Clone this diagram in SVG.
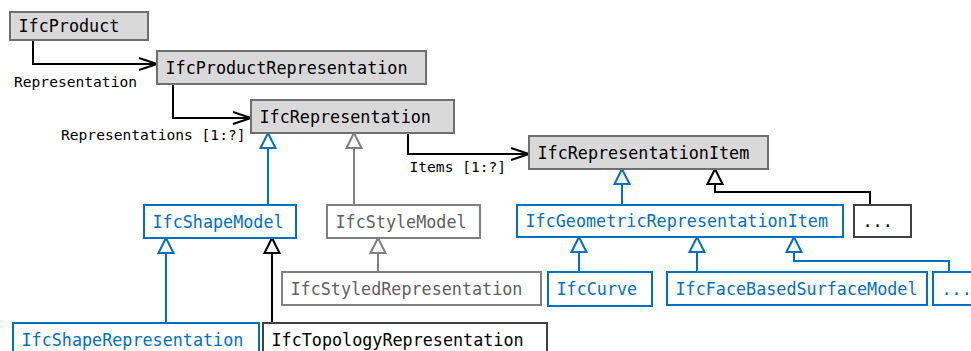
<svg xmlns="http://www.w3.org/2000/svg" width="971" height="351" viewBox="0 0 971 351">
  <defs>
    <style>
      .box { stroke-width: 2; }
      .abstract { fill: #d9d9d9; stroke: #6f6f6f; }
      .geo { fill: #ffffff; stroke: #0070c0; }
      .sty { fill: #ffffff; stroke: #808080; }
      .plain { fill: #ffffff; stroke: #404040; }
      .name { font-family: "DejaVu Sans Mono", "Liberation Mono", monospace; font-size: 16.75px; fill: #000000; }
      .name.geo-t { fill: #0070c0; }
      .name.sty-t { fill: #5f5f5f; }
      .role { font-family: "DejaVu Sans Mono", "Liberation Mono", monospace; font-size: 14.6px; fill: #000000; }
      .link { fill: none; stroke-width: 2; }
      .assoc { stroke: #000000; marker-end: url(#open-arrow); }
      .inh-blue { stroke: #0070c0; marker-end: url(#tri-blue); }
      .inh-gray { stroke: #808080; marker-end: url(#tri-gray); }
      .inh-black { stroke: #000000; marker-end: url(#tri-black); }
    </style>
    <!-- open arrow for attribute references -->
    <marker id="open-arrow" viewBox="0 0 20 14" refX="19" refY="7" markerWidth="20" markerHeight="14" markerUnits="userSpaceOnUse" orient="auto" overflow="visible">
      <path d="M1,1 L19,7 L1,13" fill="none" stroke="#000000" stroke-width="2"/>
    </marker>
    <!-- hollow triangles for subtype relations -->
    <marker id="tri-blue" viewBox="0 0 17 17" refX="16" refY="8.5" markerWidth="17" markerHeight="17" markerUnits="userSpaceOnUse" orient="auto" overflow="visible">
      <path d="M1,1 L16,8.5 L1,16 Z" fill="#ffffff" stroke="#0070c0" stroke-width="2"/>
    </marker>
    <marker id="tri-gray" viewBox="0 0 17 17" refX="16" refY="8.5" markerWidth="17" markerHeight="17" markerUnits="userSpaceOnUse" orient="auto" overflow="visible">
      <path d="M1,1 L16,8.5 L1,16 Z" fill="#ffffff" stroke="#808080" stroke-width="2"/>
    </marker>
    <marker id="tri-black" viewBox="0 0 17 17" refX="16" refY="8.5" markerWidth="17" markerHeight="17" markerUnits="userSpaceOnUse" orient="auto" overflow="visible">
      <path d="M1,1 L16,8.5 L1,16 Z" fill="#ffffff" stroke="#000000" stroke-width="2"/>
    </marker>
  </defs>

  <rect width="971" height="351" fill="#ffffff"/>

  <g id="connectors">
    <path class="link assoc" d="M33,40 V64 H157"/>
    <path class="link assoc" d="M173,84 V118 H251"/>
    <path class="link assoc" d="M408,133 V154 H529"/>
    <path class="link inh-blue" d="M268,205 V133"/>
    <path class="link inh-gray" d="M354,205 V133"/>
    <path class="link inh-blue" d="M622,205 V169"/>
    <path class="link inh-black" d="M870,205 V192 H715 V169"/>
    <path class="link inh-blue" d="M166,323 V238"/>
    <path class="link inh-black" d="M272,323 V238"/>
    <path class="link inh-gray" d="M378,272 V238"/>
    <path class="link inh-blue" d="M579,272 V237"/>
    <path class="link inh-blue" d="M697,272 V237"/>
    <path class="link inh-blue" d="M949,272 V261 H794 V237"/>
    <text class="role" x="14" y="87">Representation</text>
    <text class="role" x="61" y="140">Representations [1:?]</text>
    <text class="role" x="409.5" y="172">Items [1:?]</text>
  </g>

  <g id="IfcProduct">
    <rect class="box abstract" x="10" y="12" width="138" height="28"/>
    <text class="name" x="18.5" y="32">IfcProduct</text>
  </g>
  <g id="IfcProductRepresentation">
    <rect class="box abstract" x="157" y="51" width="269" height="33"/>
    <text class="name" x="165.5" y="73.5">IfcProductRepresentation</text>
  </g>
  <g id="IfcRepresentation">
    <rect class="box abstract" x="251" y="100" width="203" height="33"/>
    <text class="name" x="259.5" y="122.5">IfcRepresentation</text>
  </g>
  <g id="IfcRepresentationItem">
    <rect class="box abstract" x="529" y="136" width="239" height="33"/>
    <text class="name" x="537.5" y="158.5">IfcRepresentationItem</text>
  </g>
  <g id="IfcShapeModel">
    <rect class="box geo" x="144" y="205" width="152" height="33"/>
    <text class="name geo-t" x="152.5" y="227.5">IfcShapeModel</text>
  </g>
  <g id="IfcStyleModel">
    <rect class="box sty" x="327" y="205" width="153" height="33"/>
    <text class="name sty-t" x="335.5" y="227.5">IfcStyleModel</text>
  </g>
  <g id="IfcGeometricRepresentationItem">
    <rect class="box geo" x="517" y="205" width="326" height="32"/>
    <text class="name geo-t" x="525.5" y="227">IfcGeometricRepresentationItem</text>
  </g>
  <g id="OtherRepresentationItems">
    <rect class="box plain" x="854" y="205" width="57" height="32"/>
    <text class="name" x="862.5" y="227">...</text>
  </g>
  <g id="IfcStyledRepresentation">
    <rect class="box sty" x="282" y="272" width="259" height="33"/>
    <text class="name sty-t" x="290.5" y="294.5">IfcStyledRepresentation</text>
  </g>
  <g id="IfcCurve">
    <rect class="box geo" x="548" y="272" width="104" height="34"/>
    <text class="name geo-t" x="556.5" y="294.5">IfcCurve</text>
  </g>
  <g id="IfcFaceBasedSurfaceModel">
    <rect class="box geo" x="667" y="272" width="260" height="33"/>
    <text class="name geo-t" x="675.5" y="294.5">IfcFaceBasedSurfaceModel</text>
  </g>
  <g id="OtherGeometricItems">
    <rect class="box geo" x="933" y="272" width="60" height="33"/>
    <text class="name geo-t" x="941.5" y="294.5">...</text>
  </g>
  <g id="IfcShapeRepresentation">
    <rect class="box geo" x="13" y="323" width="246" height="33"/>
    <text class="name geo-t" x="21.5" y="345.5">IfcShapeRepresentation</text>
  </g>
  <g id="IfcTopologyRepresentation">
    <rect class="box plain" x="263" y="323" width="284" height="33"/>
    <text class="name" x="271.5" y="345.5">IfcTopologyRepresentation</text>
  </g>
</svg>
